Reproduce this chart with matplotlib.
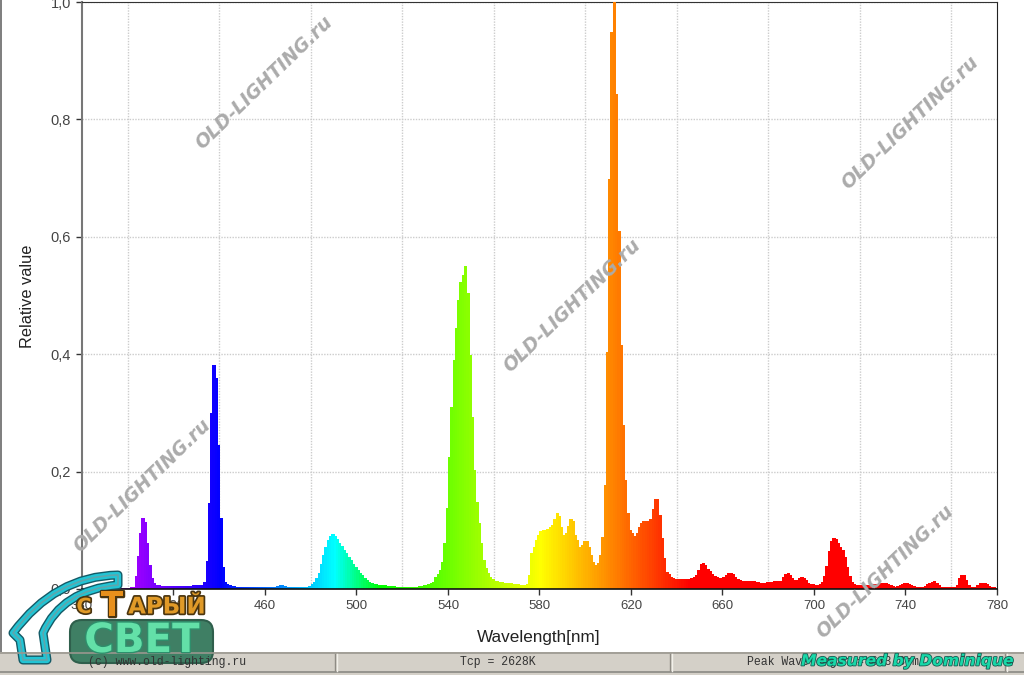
import matplotlib
matplotlib.use("Agg")
import matplotlib.pyplot as plt
import matplotlib.patheffects as pe
from matplotlib.patches import PathPatch, FancyBboxPatch, Rectangle
from matplotlib.path import Path

plt.rcParams['font.family'] = ['Liberation Sans', 'DejaVu Sans']

START_NM = 380
values = [
 0,0,0,0,0,0,0,0,0,.001,
 .001,.001,.001,.001,.001,.001,.002,.002,.002,.002,
 .002,.003,.004,.022,.056,.095,.121,.114,.078,.041,
 .018,.010,.007,.006,.005,.005,.005,.005,.005,.005,
 .005,.005,.005,.005,.005,.005,.005,.005,.006,.006,
 .006,.006,.007,.012,.048,.146,.30,.382,.36,.246,
 .121,.037,.012,.008,.006,.005,.005,.004,.004,.004,
 .004,.004,.004,.004,.004,.003,.003,.003,.003,.003,
 .003,.003,.003,.003,.004,.005,.006,.006,.005,.004,
 .004,.003,.003,.003,.003,.003,.003,.003,.004,.005,
 .008,.012,.018,.028,.042,.058,.072,.083,.09,.093,
 .091,.085,.079,.073,.067,.061,.055,.049,.043,.037,
 .032,.027,.023,.019,.015,.012,.010,.009,.008,.007,
 .006,.006,.006,.005,.005,.005,.005,.004,.004,.004,
 .004,.004,.004,.004,.004,.004,.004,.005,.005,.006,
 .007,.008,.010,.012,.021,.026,.032,.046,.078,.138,
 .225,.31,.39,.444,.492,.523,.535,.55,.504,.399,
 .293,.203,.149,.112,.078,.05,.036,.027,.021,.017,
 .014,.013,.012,.012,.011,.011,.01,.01,.009,.009,
 .008,.007,.006,.006,.008,.024,.061,.072,.083,.092,
 .098,.10,.10,.103,.105,.109,.12,.13,.125,.106,
 .092,.095,.108,.119,.115,.092,.083,.071,.075,.082,
 .082,.072,.058,.046,.041,.045,.058,.088,.177,.404,
 .698,.949,1,.843,.61,.416,.279,.186,.129,.10,
 .095,.09,.095,.105,.112,.115,.116,.115,.12,.136,
 .153,.153,.126,.087,.053,.029,.025,.021,.018,.017,
 .017,.017,.017,.017,.017,.017,.018,.021,.024,.032,
 .043,.044,.041,.034,.03,.026,.022,.02,.018,.018,
 .02,.023,.027,.028,.026,.02,.017,.015,.014,.014,
 .014,.014,.013,.013,.012,.012,.011,.011,.011,.012,
 .012,.012,.013,.013,.013,.014,.02,.026,.028,.024,
 .018,.015,.016,.019,.02,.019,.015,.011,.009,.009,
 .007,.007,.009,.012,.022,.039,.064,.081,.087,.086,
 .079,.072,.066,.055,.038,.022,.012,.009,.007,.007,
 .007,.007,.007,.007,.007,.007,.008,.009,.01,.011,
 .011,.010,.008,.006,.005,.004,.005,.006,.008,.01,
 .01,.008,.006,.005,.004,.003,.003,.004,.005,.008,
 .011,.012,.013,.011,.007,.004,.003,.003,.003,.003,
 .003,.003,.007,.018,.024,.024,.015,.007,.003,.003,
 .003,.007,.01,.011,.011,.008,.005,.004,.003,.002,
]
wavelengths = [START_NM + i for i in range(len(values))]
x_ticks = [380, 420, 460, 500, 540, 580, 620, 660, 700, 740, 780]
x_grid = [400, 420, 440, 460, 480, 500, 520, 540, 560, 580, 600, 620, 640, 660, 680, 700, 720, 740, 760]
y_ticks = [0, .2, .4, .6, .8, 1.0]
y_labels = ['0,0', '0,2', '0,4', '0,6', '0,8', '1,0']


def spectrum_colour(w):
    if w < 440:
        return ((440 - w) / 60, 0, 1)
    if w < 490:
        return (0, (w - 440) / 50, 1)
    if w < 510:
        return (0, 1, (510 - w) / 20)
    if w < 580:
        return ((w - 510) / 70, 1, 0)
    if w < 645:
        return (1, (645 - w) / 65, 0)
    return (1, 0, 0)


W, H = 1024, 675
fig = plt.figure(figsize=(W / 100, H / 100), dpi=100, facecolor='white')
ax = fig.add_axes([82 / W, 1 - 589 / H, (997 - 82) / W, (589 - 2) / H])
ax.set_xlim(380, 780)
ax.set_ylim(0, 1)
colours = [spectrum_colour(w) for w in wavelengths]
ax.bar(wavelengths, values, width=1, align='edge', color=colours, edgecolor=colours, linewidth=0.4,
       antialiased=False, zorder=3)

ax.set_xticks(x_ticks)
ax.set_xticks(x_grid, minor=True)
ax.set_yticks(y_ticks, y_labels)
ax.grid(True, which='minor', axis='x', color='#cccccc', linestyle=(0, (1, 1)), linewidth=1, zorder=0)
ax.grid(True, which='major', axis='y', color='#cccccc', linestyle=(0, (1, 1)), linewidth=1, zorder=0)
ax.tick_params(axis='x', which='minor', length=0)
ax.tick_params(axis='both', which='major', length=4, width=1, color='#333333', pad=4)
ax.tick_params(axis='x', which='major', labelsize=9.5, labelcolor='#444444')
ax.tick_params(axis='y', which='major', labelsize=10.5, labelcolor='#444444')
ax.spines['left'].set_color('#777777')
ax.spines['left'].set_linewidth(1.5)
ax.spines['top'].set_color('#333333')
ax.spines['right'].set_color('#222222')
ax.spines['bottom'].set_color('#111111')
ax.spines['bottom'].set_linewidth(1.2)
ax.spines['bottom'].set_zorder(5)
ax.set_xlabel('Wavelength[nm]', fontsize=12.3, color='#222222', labelpad=0)
ax.xaxis.set_label_coords((539 - 82) / (997 - 82), -(630 - 589) / 587)
ax.set_ylabel('Relative value', fontsize=11.8, color='#222222')
ax.yaxis.set_label_coords((35 - 82) / (997 - 82), (589 - 296) / 587)

# overlay in image pixel coordinates: window chrome, watermarks, logo
ov = fig.add_axes([0, 0, 1, 1], facecolor='none', zorder=10)
ov.set_xlim(0, W)
ov.set_ylim(H, 0)
ov.axis('off')

# window edge and status bar
ov.add_patch(Rectangle((0, 0), 1.5, H, color='#808080', lw=0))
ov.add_patch(Rectangle((0, 652), W, 23, color='#d4d0c8', lw=0))
ov.plot([0, W], [653, 653], color='#9a978f', lw=1.2)
ov.plot([0, W], [671.5, 671.5], color='#8a8a84', lw=1.2)
for sep in [335, 670, 1005]:
    ov.plot([sep, sep], [654, 671], color='#8f8c85', lw=1)
    ov.plot([sep + 1.5, sep + 1.5], [654, 671], color='#f2f0ea', lw=1)
mono = dict(family='Liberation Mono', fontsize=8.3, color='#333333', va='center')
ov.text(88, 662, '(c) www.old-lighting.ru', ha='left', **mono)
ov.text(460, 662, 'Tcp = 2628K', ha='left', **mono)
ov.text(747, 662, 'Peak Wavelength = 613.8nm', ha='left', **mono)
ov.text(801, 661, 'Measured by Dominique', ha='left', va='center', family='DejaVu Sans',
        fontsize=11.2, fontweight='bold', style='italic', color='#18d8a8',
        path_effects=[pe.withStroke(linewidth=1.2, foreground='#1a5a50')])

# watermarks
for cx, cy in [(264, 83), (910, 123), (572, 306), (142, 486), (885, 572)]:
    ov.text(cx, cy, 'OLD-LIGHTING.ru', rotation=44, rotation_mode='anchor', ha='center', va='center',
            family='DejaVu Sans', fontsize=13.5, fontweight='bold', style='italic', color='#ababab')

# logo arc
arc = Path([(118, 575), (55, 576), (13, 633), (20, 640), (23, 660), (47, 660), (43, 633),
            (62, 590), (118, 585), (118, 575)],
           [Path.MOVETO, Path.CURVE3, Path.CURVE3, Path.LINETO, Path.LINETO, Path.LINETO, Path.LINETO,
            Path.CURVE3, Path.CURVE3, Path.CLOSEPOLY])
ov.add_patch(PathPatch(arc, fill=False, edgecolor='#145a66', lw=6.5, joinstyle='round'))
ov.add_patch(PathPatch(arc, fill=False, edgecolor='#22c4d4', lw=4.5, joinstyle='round'))
ov.add_patch(PathPatch(arc, fill=False, edgecolor='#5fa6ac', lw=1.2, joinstyle='round'))

# logo words
ov.add_patch(FancyBboxPatch((78, 628), 127, 27, boxstyle='round,pad=8,rounding_size=12',
                            facecolor='#3f7f64', edgecolor='#2f5f4c', lw=1.5))
ov.text(142, 641, 'СВЕТ', ha='center', va='center', family='DejaVu Sans', fontsize=29, fontweight='bold',
        color='#63e0a8', path_effects=[pe.withStroke(linewidth=2, foreground='#2e8f6c')])
orange = [pe.withStroke(linewidth=2.5, foreground='#4a3510')]
ov.text(84, 607, 'С', ha='center', va='center', family='DejaVu Sans', fontsize=15, fontweight='bold',
        color='#e09a28', path_effects=orange)
ov.text(112, 606, 'Т', ha='center', va='center', family='DejaVu Sans', fontsize=24, fontweight='bold',
        color='#e8901c', path_effects=orange)
ov.text(167, 607, 'АРЫЙ', ha='center', va='center', family='DejaVu Sans', fontsize=16.5, fontweight='bold',
        color='#e09a28', path_effects=orange)

fig.savefig('out.png', dpi=100, facecolor='white')
